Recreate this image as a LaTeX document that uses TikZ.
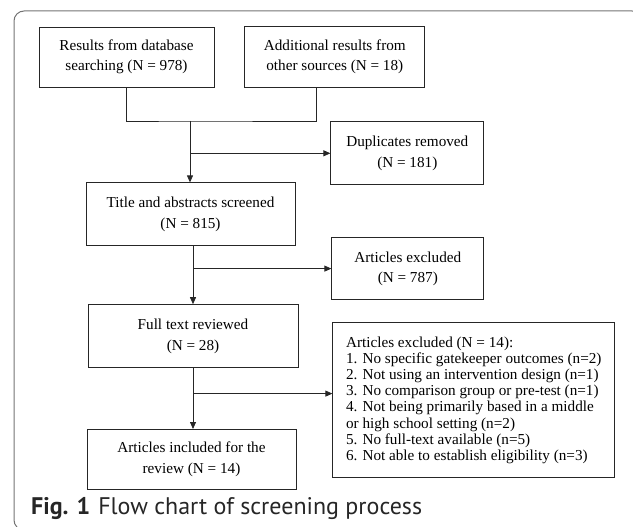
\documentclass[tikz,border=0pt]{standalone}
\usepackage{fontspec}
\setmainfont{Liberation Serif}
\newfontfamily\capfont{PT Sans}
\usetikzlibrary{positioning, arrows.meta}
\definecolor{framegray}{gray}{0.45}

\begin{document}
\begin{tikzpicture}[x=1pt, y=-1pt,
    box/.style={draw=black!85, line width=0.8pt, align=center, inner sep=2pt,
        font=\fontsize{15.2pt}{20.5pt}\selectfont},
    flow/.style={draw=black!85, line width=0.8pt, -{Triangle[length=7pt, width=6pt]}},
    link/.style={draw=black!85, line width=0.8pt}]

    \useasboundingbox (0,0) rectangle (633,527);
    \draw[framegray, line width=1pt, rounded corners=10pt] (14,11) rectangle (642,530);

    \node[box, minimum width=175pt, minimum height=60pt] (db) at (126.5,57) {Results from database\\searching (N = 978)};
    \node[box, minimum width=180pt, minimum height=61pt, right=30pt of db] (other) {Additional results from\\other sources (N = 18)};
    \node[box, minimum width=209pt, minimum height=63pt, below=95pt of db, xshift=64pt] (title) {Title and abstracts screened\\(N = 815)};
    \node[box, minimum width=153pt, minimum height=63pt, right=35pt of title, yshift=61pt] (dup) {Duplicates removed\\(N = 181)};
    \node[box, minimum width=210pt, minimum height=63pt, below=58pt of title, xshift=2.5pt] (full) {Full text reviewed\\(N = 28)};
    \node[box, minimum width=152pt, minimum height=62pt, right=33pt of full, yshift=67.5pt] (exa) {Articles excluded\\(N = 787)};
    \node[box, minimum width=209pt, minimum height=60pt, below=61pt of full, xshift=-1.5pt] (incl) {Articles included for the\\review (N = 14)};
    \node[box, align=left, minimum width=282pt, minimum height=155pt,
        font=\fontsize{15.2pt}{16.2pt}\selectfont,
        right=34pt of full, yshift=-64pt] (exb) {Articles excluded (N = 14):\\%
        1. No specific gatekeeper outcomes (n=2)\\%
        2. Not using an intervention design (n=1)\\%
        3. No comparison group or pre-test (n=1)\\%
        4. Not being primarily based in a middle\\%
        or high school setting (n=2)\\%
        5. No full-text available (n=5)\\%
        6. Not able to establish eligibility (n=3)};

    \coordinate (merge) at (190,121);
    \coordinate (exbin) at ([yshift=6.5pt]exb.west);
    \draw[link] (db.south) |- (merge) -| ([xshift=-18pt]other.south);
    \draw[flow] (merge) -- (merge |- title.north);
    \draw[flow] (merge |- dup.west) -- (dup.west);
    \draw[flow] (full.north |- title.south) -- (full.north);
    \draw[flow] (full.north |- exa.west) -- (exa.west);
    \draw[flow] (full.south) -- (full.south |- incl.north);
    \draw[flow] (full.south |- exbin) -- (exbin);

    \node[anchor=base west, inner sep=0pt, text=black!85, font=\capfont\fontsize{24pt}{28pt}\selectfont] (cap) at (31,514) {\textbf{Fig. 1}\hspace{8pt}Flow chart of screening process};

\end{tikzpicture}
\end{document}
